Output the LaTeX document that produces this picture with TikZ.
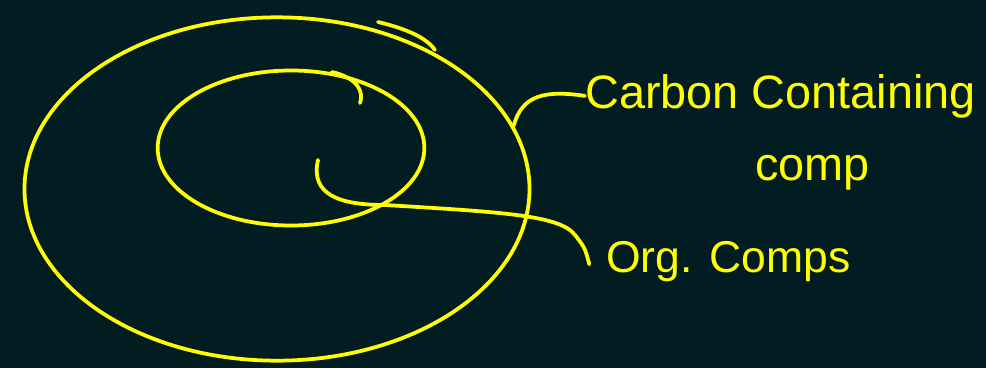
\documentclass[tikz,border=0pt]{standalone}
\usepackage{fontspec}
\setmainfont{Liberation Sans}
\usetikzlibrary{shapes.geometric}
\definecolor{board}{HTML}{021D22}
\definecolor{chalk}{HTML}{FFFF00}

\begin{document}
\begin{tikzpicture}[
		x=0.03cm, y=-0.03cm,
		pen/.style={chalk, line width=3.2pt, line cap=round},
		ring/.style={ellipse, draw=chalk, line width=3.2pt, inner sep=0pt},
		note/.style={chalk, font=\fontsize{40}{46}\selectfont, inner sep=0pt}
		]
		
		% Board
		\fill[board] (0,0) rectangle (986,368);
		\useasboundingbox (0,0) rectangle (986,368);
		
		% Sets
		\node[ring, minimum width=15.15cm, minimum height=10.3cm] (outer) at (277,189) {};
		\node[ring, minimum width=8.0cm, minimum height=4.65cm] (inner) at (291,148) {};
		
		% Pen strokes at the top of the rings
		\draw[pen] (378,22) .. controls (412,30) and (428,40) .. (435,50);
		\draw[pen] (332,72) .. controls (358,78) and (364,92) .. (360,103);
		
		% Labels
		\node[note, anchor=base west] (carbon) at (585,108) {Carbon Containing};
		\node[note, anchor=base west] (comp) at (755,180) {comp};
		\node[note, font=\fontsize{38}{44}\selectfont, anchor=base west] (org) at (606,272) {Org. Comps};
		
		% Leaders
		\coordinate (tail) at (318,160);
		\coordinate (orgtip) at ([xshift=-0.5cm, yshift=-0.1cm]org.west);
		\draw[pen] (outer.15) .. controls (522,95) and (545,90) .. (carbon.west);
		\draw[pen] (tail) .. controls (310,195) and (340,205) .. (385,205)
		.. controls (500,212) and (560,215) .. (575,235) .. controls (585,248) .. (orgtip);
		
	\end{tikzpicture}
\end{document}
